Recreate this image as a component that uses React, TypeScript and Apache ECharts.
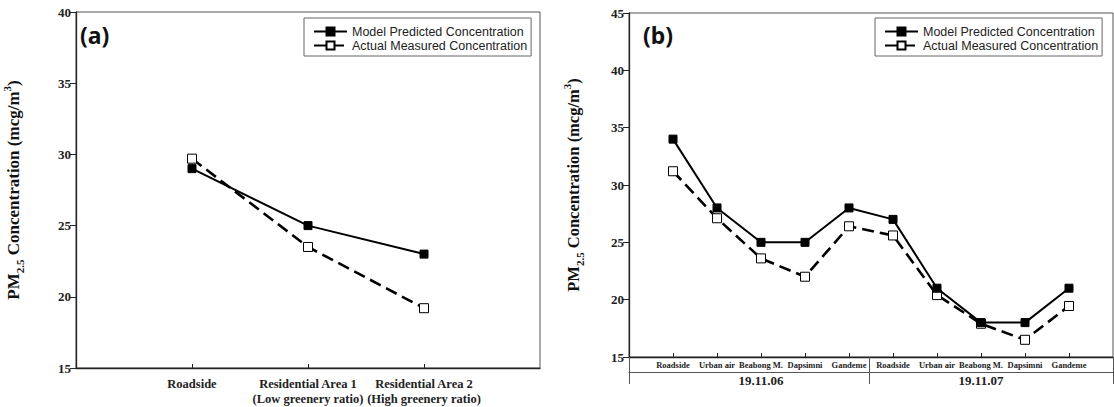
import React, { useEffect, useRef } from "react";
import * as echarts from "echarts";

const catsA = ["Roadside", "Residential Area 1\n(Low greenery ratio)", "Residential Area 2\n(High greenery ratio)"];
const modelA = [29, 25, 23];
const actualA = [29.7, 23.5, 19.2];

const catsB = ["Roadside", "Urban air", "Beabong M.", "Dapsimni", "Gandeme", "Roadside", "Urban air", "Beabong M.", "Dapsimni", "Gandeme"];
const modelB = [34, 28, 25, 25, 28, 27, 21, 18, 18, 21];
const actualB = [31.2, 27.1, 23.6, 22.0, 26.4, 25.6, 20.4, 17.9, 16.5, 19.45];
const dates = ["19.11.06", "19.11.07"];
const dateLabelPos = [3, 8];
const groupBounds = [0, 5.45, 11];

const seriesNames = ["Model Predicted Concentration", "Actual Measured Concentration"];

const SERIF = "Liberation Serif";
const SANS = "Liberation Sans";
const INK = "#111";

const yName = "PM{sub|2.5} Concentration (mcg/m{sup|3})";
const yNameStyle = (size: number) => ({
  fontFamily: SERIF,
  fontWeight: "bold" as const,
  fontSize: size,
  color: INK,
  lineHeight: 24,
  rich: {
    sub: { fontFamily: SERIF, fontWeight: "bold" as const, fontSize: 11, color: INK, verticalAlign: "bottom" as const, lineHeight: 14 },
    sup: { fontFamily: SERIF, fontWeight: "bold" as const, fontSize: 11, color: INK, verticalAlign: "top" as const, lineHeight: 12 },
  },
});

const yAxisCommon = (gridIndex: number, max: number, nameGap: number, nameSize: number) => ({
  type: "value" as const,
  gridIndex,
  min: 15,
  max,
  interval: 5,
  name: yName,
  nameLocation: "middle" as const,
  nameRotate: 90,
  nameGap,
  nameTextStyle: yNameStyle(nameSize),
  axisLine: { show: true, lineStyle: { color: "#222", width: 1.3 } },
  axisTick: { show: true, inside: false, length: 6, lineStyle: { color: "#222" } },
  axisLabel: { fontFamily: SERIF, fontWeight: "bold" as const, fontSize: 13, color: "#222", margin: 5 },
  splitLine: { show: false },
});

const modelStyle = (xi: number, yi: number, vals: number[]) => ({
  name: seriesNames[0],
  type: "line" as const,
  xAxisIndex: xi,
  yAxisIndex: yi,
  data: vals.map((v, i) => [i + 1, v]),
  symbol: "rect",
  symbolSize: 8,
  itemStyle: { color: "#000", borderColor: "#000", borderWidth: 1 },
  lineStyle: { color: "#000", width: 2, type: "solid" as const },
  z: 3,
});

const actualStyle = (xi: number, yi: number, vals: number[]) => ({
  name: seriesNames[1],
  type: "line" as const,
  xAxisIndex: xi,
  yAxisIndex: yi,
  data: vals.map((v, i) => [i + 1, v]),
  symbol: "rect",
  symbolSize: 9,
  itemStyle: { color: "#fff", borderColor: "#000", borderWidth: 1 },
  lineStyle: { color: "#000", width: 2.6, type: [12, 6] as any },
  z: 2,
});

const legendCommon = (left: number) => ({
  data: seriesNames,
  orient: "vertical" as const,
  left,
  top: 18,
  padding: [7, 4, 4, 9],
  itemGap: 1,
  itemWidth: 33,
  itemHeight: 10,
  borderColor: "#666",
  borderWidth: 1,
  backgroundColor: "#fff",
  textStyle: { fontFamily: SANS, fontSize: 12.5, color: "#222" },
});

export default function App() {
  const ref = useRef<HTMLDivElement>(null);
  useEffect(() => {
    document.body.style.margin = "0";
    if (!ref.current) return;
    const chart = echarts.init(ref.current, undefined, { renderer: "svg" });
    chart.setOption({
      animation: false,
      backgroundColor: "#fff",
      grid: [
        { left: 66, top: 12, width: 474, height: 356, show: true, borderColor: "#555", borderWidth: 1, backgroundColor: "transparent" },
        { left: 629, top: 13, width: 484, height: 344, show: true, borderColor: "#555", borderWidth: 1, backgroundColor: "transparent" },
      ],
      legend: [legendCommon(304), legendCommon(875)],
      xAxis: [
        {
          type: "value",
          gridIndex: 0,
          min: 0,
          max: catsA.length + 1,
          axisLine: { show: true, lineStyle: { color: "#222", width: 1.3 } },
          axisTick: { show: true, inside: true, length: 4, customValues: catsA.map((_, i) => i + 1), lineStyle: { color: "#222" } },
          axisLabel: {
            customValues: catsA.map((_, i) => i + 1),
            formatter: (v: number) => catsA[Math.round(v) - 1] ?? "",
            fontFamily: SERIF,
            fontWeight: "bold",
            fontSize: 12.5,
            lineHeight: 15,
            color: "#222",
            margin: 8,
            hideOverlap: false,
          },
          splitLine: { show: false },
        },
        {
          type: "value",
          gridIndex: 1,
          min: 0,
          max: catsB.length + 1,
          axisLine: { show: true, lineStyle: { color: "#222", width: 1.3 } },
          axisTick: { show: true, inside: true, length: 4, customValues: catsB.map((_, i) => i + 1), lineStyle: { color: "#222" } },
          axisLabel: {
            customValues: catsB.map((_, i) => i + 1),
            formatter: (v: number) => catsB[Math.round(v) - 1] ?? "",
            fontFamily: SERIF,
            fontWeight: "bold",
            fontSize: 8.5,
            color: "#222",
            margin: 3,
            hideOverlap: false,
          },
          splitLine: { show: false },
        },
        {
          type: "value",
          gridIndex: 1,
          min: 0,
          max: catsB.length + 1,
          position: "bottom",
          offset: 15,
          axisLine: { show: true, lineStyle: { color: "#555", width: 1 } },
          axisTick: { show: true, inside: false, length: 12, customValues: groupBounds, lineStyle: { color: "#555" } },
          axisLabel: {
            customValues: dateLabelPos,
            formatter: (v: number) => dates[dateLabelPos.indexOf(Math.round(v))] ?? "",
            fontFamily: SERIF,
            fontWeight: "bold",
            fontSize: 13,
            color: "#222",
            margin: 2,
          },
          splitLine: { show: false },
        },
        {
          type: "value",
          gridIndex: 1,
          min: 0,
          max: catsB.length + 1,
          position: "bottom",
          offset: 0,
          axisLine: { show: false },
          axisTick: { show: true, inside: false, length: 15, customValues: groupBounds, lineStyle: { color: "#555" } },
          axisLabel: { show: false },
          splitLine: { show: false },
        },
      ],
      yAxis: [yAxisCommon(0, 40, 51, 17), yAxisCommon(1, 45, 44, 16.5)],
      series: [
        modelStyle(0, 0, modelA),
        actualStyle(0, 0, actualA),
        modelStyle(1, 1, modelB),
        actualStyle(1, 1, actualB),
      ],
      graphic: [
        { type: "text", left: 80, top: 23, style: { text: "(a)", font: "bold 23px 'Noto Sans'", fill: "#111" } },
        { type: "text", left: 643, top: 23, style: { text: "(b)", font: "bold 23px 'Noto Sans'", fill: "#111" } },
      ],
    });
    return () => chart.dispose();
  }, []);
  return <div ref={ref} style={{ width: 1114, height: 407 }} />;
}
